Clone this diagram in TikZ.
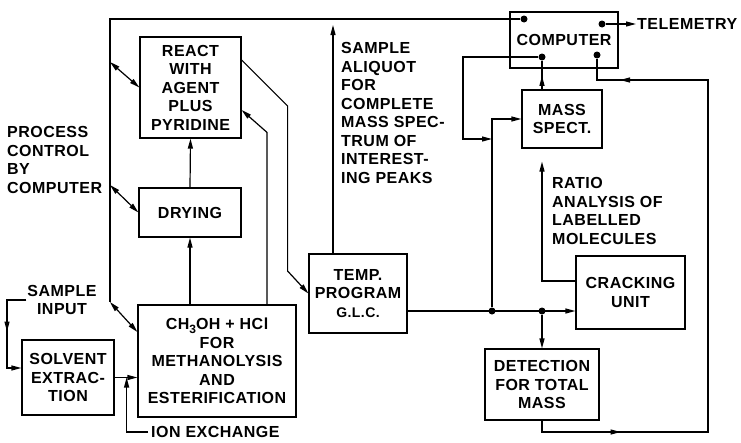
\documentclass[tikz,border=0pt]{standalone}
\usepackage{fontspec}
\setmainfont{Liberation Sans}[LetterSpace=3]
\usetikzlibrary{arrows.meta,calc,decorations.markings}

\begin{document}
\begin{tikzpicture}[
    x=1pt, y=-1pt,
    font=\bfseries\fontsize{16}{18.5}\selectfont,
    box/.style={
        draw,
        rectangle,
        line width=1.2pt,
        inner sep=0pt,
        align=center
    },
    lbl/.style={align=left, inner sep=0pt, anchor=west},
    line/.style={line width=1.2pt},
    arrow/.style={line, -{Triangle[length=10pt,width=5pt]}},
    dblarrow/.style={line, {Triangle[length=10pt,width=5pt]}-{Triangle[length=10pt,width=5pt]}},
    midarrow/.style={line, postaction={decorate,
        decoration={markings, mark=at position #1 with {\arrow{Triangle[length=10pt,width=5pt]}}}}},
    dot/.style={circle, fill, inner sep=0pt, minimum size=7pt}
]
\useasboundingbox (0,0) rectangle (741,442);

\node[box, minimum width=101pt, minimum height=101pt] (react) at (190.5,87.5) {REACT\\WITH\\AGENT\\PLUS\\PYRIDINE};
\node[box, minimum width=102pt, minimum height=49pt] (drying) at (190,212.5) {DRYING};
\node[box, minimum width=158pt, minimum height=112pt] (methanol) at (217,361)
    {CH\raisebox{-4pt}{\fontsize{12}{12}\selectfont 3}OH + HCl\\FOR\\METHANOLYSIS\\AND\\ESTERIFICATION};
\node[box, minimum width=92pt, minimum height=75pt] (solvent) at (68,377.5) {SOLVENT\\EXTRAC-\\TION};
\node[box, minimum width=98pt, minimum height=79pt] (temp) at (358,293.5)
    {TEMP.\\PROGRAM\\{\fontsize{14}{16}\selectfont G.L.C.}};
\node[box, minimum width=108pt, minimum height=56pt] (computer) at (564,40) {COMPUTER};
\node[box, minimum width=80pt, minimum height=58pt] (mass) at (562,119) {MASS\\SPECT.};
\node[box, minimum width=109pt, minimum height=73pt] (crack) at (630.5,292.5) {CRACKING\\UNIT};
\node[box, minimum width=114pt, minimum height=71pt] (detect) at (542,384.5) {DETECTION\\FOR TOTAL\\MASS};

\node[lbl] (process) at (7,160) {PROCESS\\CONTROL\\BY\\COMPUTER};
\node[align=center, inner sep=1pt] (sampin) at (62,300) {SAMPLE\\INPUT};
\node[lbl, inner sep=3pt] (ionex) at (148,432) {ION EXCHANGE};
\node[lbl] (aliquot) at (341,113) {SAMPLE\\ALIQUOT\\FOR\\COMPLETE\\MASS SPEC-\\TRUM OF\\INTEREST-\\ING PEAKS};
\node[lbl] (ratio) at (552,211) {RATIO\\ANALYSIS OF\\LABELLED\\MOLECULES};
\node[lbl, inner sep=1pt] (telem) at (636,24) {TELEMETRY};

\node[dot] (c1) at (524,19) {};
\node[dot] (c2) at (602,24) {};
\node[dot] (c3) at (542,57) {};
\node[dot] (c4) at (597,55) {};
\node[dot] (d1) at (492,311) {};
\node[dot] (d2) at (542,311) {};

\coordinate (b0) at (110,19);
\coordinate (b1) at (110,62);
\coordinate (b2) at (110,185);
\coordinate (b3) at (110,302);
\coordinate (m3) at ($(methanol.west)+(0,-29)$);
\coordinate (s0) at (7,368);
\coordinate (s1) at ($(solvent.west)+(0,-9.5)$);
\coordinate (ix) at ($(solvent.east)+(12,0)$);
\coordinate (r1) at ($(react.east)+(0,-27.5)$);
\coordinate (r2) at ($(react.east)+(0,22.5)$);
\coordinate (m2) at ($(methanol.north)+(50,0)$);
\coordinate (t1) at ($(temp.east)+(0,17.5)$);
\coordinate (t2) at ($(temp.north)+(-25,0)$);
\coordinate (aliq) at (333,25);
\coordinate (k2) at ($(crack.west)+(0,-11.5)$);
\coordinate (ms) at ($(mass.south)+(-20,13)$);
\coordinate (lp1) at (708,432);
\coordinate (lp2) at (708,80);
\coordinate (lp3) at (463,139);

\draw[line] (c1) -- (b0) -- (b3);
\draw[dblarrow] (b1) -- (react.west);
\draw[dblarrow] (b2) -- (drying.west);
\draw[dblarrow] (b3) -- (m3);

\draw[arrow, midarrow=0.5] (sampin.west) -| (s0) -- (s1);
\draw[arrow] (solvent.east) -- (solvent.east -| methanol.west);
\draw[arrow] (ionex.west) -| (ix);
\draw[arrow] (drying |- methanol.north) -- (drying.south);
\draw[arrow] (drying.north) -- (react.south);
\draw[arrow] (m2) -- ++(0,-172) -- (r2);
\draw[arrow] (r1) -- ++(46,46) -- ++(0,165) -- (temp.west);
\draw[arrow] (t2) -- (aliq);

\draw[arrow] (t1) -- (t1 -| crack.west);
\draw[arrow] (d1) |- (mass.west);
\draw[arrow] (d2) -- (detect.north);
\draw[line, midarrow=0.136, midarrow=0.933] (detect.south) |- (lp1) -- (lp2) -| (c4);
\draw[arrow] (k2) -| (ms);
\draw[line, midarrow=0.47] (mass.north -| c3) -- (c3);
\draw[arrow] (c3) -| (lp3) -- (lp3 -| d1);
\draw[arrow] (c2) -- (telem.west);

\end{tikzpicture}
\end{document}
